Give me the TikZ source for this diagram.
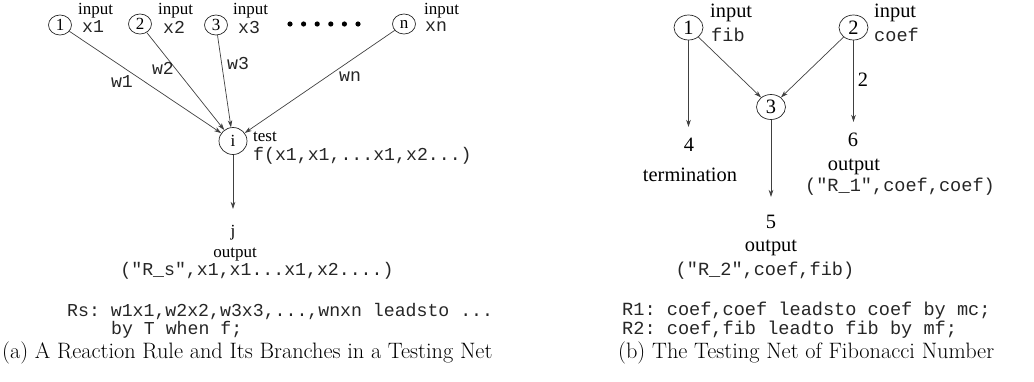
\documentclass[tikz,border=0pt]{standalone}
\usepackage{fontspec}
\setmonofont{Liberation Mono}
\newfontfamily\tms{Liberation Serif}
\usetikzlibrary{arrows.meta,shapes.geometric}
\begin{document}
\begin{tikzpicture}[x=1pt,y=-1pt,
  arr/.style={draw=black!75, line width=0.7pt, -{Stealth[length=7pt,width=4.5pt,inset=2pt]}},
  lnode/.style={ellipse, draw=black!85, line width=0.7pt, minimum width=23pt, minimum height=20pt, inner sep=0pt, font=\tms\fontsize{17}{17}\selectfont},
  rnode/.style={ellipse, draw=black!85, line width=0.7pt, minimum width=29pt, minimum height=25pt, inner sep=0pt, font=\tms\fontsize{20.4}{20.4}\selectfont},
  lt/.style={inner sep=0pt, font=\tms\fontsize{17}{20}\selectfont},
  rt/.style={inner sep=0pt, font=\tms\fontsize{20.4}{23}\selectfont},
  lm/.style={inner sep=0pt, text=black!85, font=\ttfamily\fontsize{18.2}{19.5}\selectfont},
  rm/.style={inner sep=0pt, text=black!85, font=\ttfamily\fontsize{18.6}{20}\selectfont},
  captxt/.style={inner sep=0pt, font=\fontsize{22.3}{26}\selectfont},
  dotmark/.style={fill=black}
]
\useasboundingbox (0,0) rectangle (1034,381);

% ---------------- (a) ----------------
\node[lnode] (a1) at (60,25) {1};
\node[lnode] (a2) at (140,24) {2};
\node[lnode] (a3) at (216,25) {3};
\node[lnode] (an) at (404,24) {n};
\node[lnode, minimum width=28pt, minimum height=27pt] (ai) at (233,141) {i};

\node[lt, anchor=west] (a1in) at (78,10.5) {input};
\node[lm, anchor=west] (a1x) at (82,27) {x1};
\node[lt, anchor=west] (a2in) at (158,10.5) {input};
\node[lm, anchor=west] (a2x) at (163,27) {x2};
\node[lt, anchor=west] (a3in) at (233,10.5) {input};
\node[lm, anchor=west] (a3x) at (238,27) {x3};
\node[lt, anchor=west] (anin) at (424,10.5) {input};
\node[lm, anchor=west] (anx) at (425,27) {xn};

\foreach \k in {0,...,5} \fill[dotmark] (290+\k*13.6,24) circle (2.6);

\draw[arr] (a1) -- (ai);
\draw[arr] (a2) -- (ai);
\draw[arr] (a3) -- (ai);
\draw[arr] (an) -- (ai);

\node[lm] (w1) at (122,82) {w1};
\node[lm] (w2) at (163,68) {w2};
\node[lm] (w3) at (238,63) {w3};
\node[lm] (wn) at (350,77) {wn};

\node[lt, anchor=west] (atest) at (253,137) {test};
\node[lm, anchor=west] (af) at (253,156) {f(x1,x1,...x1,x2...)};

\coordinate (ajtip) at (233,209);
\draw[arr] (ai) -- (ajtip);
\node[lt] (aj) at (233,233) {j};
\node[lt] (aout) at (235,255) {output};
\node[lm] (ars) at (257,271) {("R\_s",x1,x1...x1,x2....)};

\node[lm, anchor=west] (arule1) at (67,312) {Rs: w1x1,w2x2,w3x3,...,wnxn leadsto ...};
\node[lm, anchor=west] (arule2) at (111,330) {by T when f;};

\node[captxt, anchor=west] (capa) at (2,353) {(a) A Reaction Rule and Its Branches in a Testing Net};

% ---------------- (b) ----------------
\node[rnode] (b1) at (688.5,27.5) {1};
\node[rnode] (b2) at (853.5,27.5) {2};
\node[rnode] (b3) at (771,107) {3};

\node[rt, anchor=west] (b1in) at (710,13) {input};
\node[rm, anchor=west] (b1x) at (711,35) {fib};
\node[rt, anchor=west] (b2in) at (874,13) {input};
\node[rm, anchor=west] (b2x) at (874,35) {coef};

\draw[arr] (b1) -- (b3);
\draw[arr] (b2) -- (b3);

\coordinate (b4tip) at (688.5,127);
\draw[arr] (b1) -- (b4tip);
\node[rt] (b4) at (689,145) {4};
\node[rt] (bterm) at (690,175) {termination};

\coordinate (b6tip) at (853.5,122);
\draw[arr] (b2) -- (b6tip);
\node[rt] (bw2) at (863,80) {2};
\node[rt] (b6) at (853,140) {6};
\node[rt] (bout6) at (854,167) {output};
\node[rm] (br1) at (900,187) {("R\_1",coef,coef)};

\coordinate (b5tip) at (771,197);
\draw[arr] (b3) -- (b5tip);
\node[rt] (b5) at (771,222) {5};
\node[rt] (bout5) at (771,248) {output};
\node[rm] (br2) at (765,271) {("R\_2",coef,fib)};

\node[rm, anchor=west] (brule1) at (622,311) {R1: coef,coef leadsto coef by mc;};
\node[rm, anchor=west] (brule2) at (622,330) {R2: coef,fib leadto fib by mf;};

\node[captxt, anchor=west] (capb) at (618,353) {(b) The Testing Net of Fibonacci Number};
\end{tikzpicture}
\end{document}
